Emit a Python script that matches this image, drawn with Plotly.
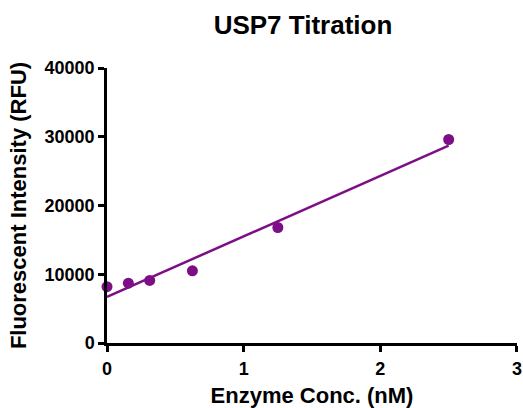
import numpy as np
import plotly.graph_objects as go

conc_nM = [0.0, 0.15625, 0.3125, 0.625, 1.25, 2.5]
rfu = [8200, 8700, 9100, 10500, 16800, 29600]
x_ticks = [0, 1, 2, 3]
y_ticks = [0, 10000, 20000, 30000, 40000]
y_tick_text = ["0", "10000", "20000", "30000", "40000"]

purple = "#7d0f86"
slope, intercept = np.polyfit(conc_nM, rfu, 1)
fit_x = [min(conc_nM), max(conc_nM)]
fit_y = [slope * v + intercept for v in fit_x]

fig = go.Figure()
fig.add_trace(go.Scatter(x=fit_x, y=fit_y, mode="lines",
                         line=dict(color=purple, width=2.5), cliponaxis=False))
fig.add_trace(go.Scatter(x=conc_nM, y=rfu, mode="markers",
                         marker=dict(color=purple, size=11), cliponaxis=False))

font_family = "Liberation Sans, Arial, sans-serif"
fig.update_layout(
    width=523, height=408,
    margin=dict(l=107, r=6, t=68, b=65, autoexpand=False),
    paper_bgcolor="white", plot_bgcolor="white",
    showlegend=False,
    title=dict(text="<b>USP7 Titration</b>", x=303 / 523, xref="container", xanchor="center",
               y=1 - 25 / 408, yref="container", yanchor="middle",
               font=dict(family=font_family, size=26, color="black")),
    font=dict(family=font_family, color="black"),
)
fig.update_xaxes(range=[0, 3.0001], tickvals=x_ticks, ticktext=[str(v) for v in x_ticks],
                 showgrid=False, zeroline=False, automargin=False,
                 showline=True, linecolor="black", linewidth=2.5,
                 ticks="outside", ticklen=6, tickwidth=2.5, tickcolor="black",
                 ticklabelstandoff=2,
                 tickfont=dict(family=font_family, size=18, color="black", weight="bold"),
                 title=dict(text="<b>Enzyme Conc. (nM)</b>", standoff=16,
                            font=dict(family=font_family, size=22, color="black")))
fig.update_yaxes(range=[0, 40000], tickvals=y_ticks, ticktext=y_tick_text,
                 showgrid=False, zeroline=False, automargin=False,
                 showline=True, linecolor="black", linewidth=2.5,
                 ticks="outside", ticklen=6, tickwidth=2.5, tickcolor="black",
                 tickfont=dict(family=font_family, size=18, color="black", weight="bold"),
                 title=dict(text="<b>Fluorescent Intensity (RFU)</b>", standoff=12,
                            font=dict(family=font_family, size=22, color="black")))

fig.write_html("out.html", config={"displayModeBar": False},
               post_script="document.body.style.margin='0';")
